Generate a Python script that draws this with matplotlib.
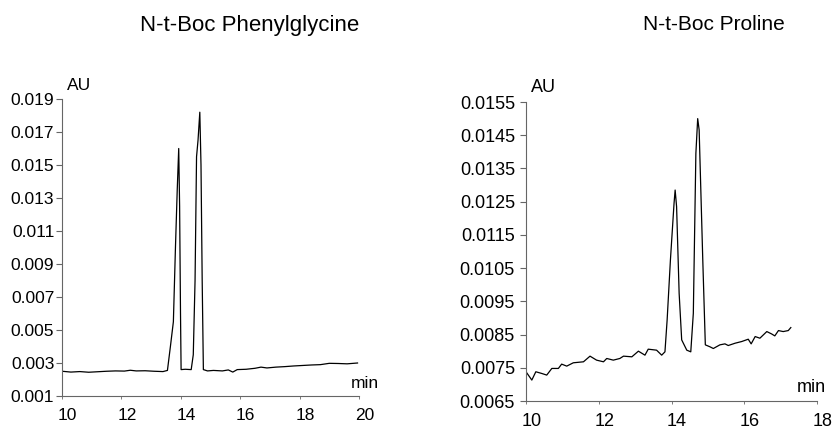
import matplotlib
matplotlib.use("Agg")
import matplotlib.pyplot as plt
import matplotlib.transforms as mtransforms

plt.rcParams['font.family'] = ['Liberation Sans', 'DejaVu Sans']

# N-t-Boc Phenylglycine trace (min, AU)
phg_t = [10.0, 10.3, 10.6, 10.9, 11.2, 11.5, 11.8, 12.1, 12.3, 12.5, 12.8, 13.1, 13.4,
         13.55, 13.65, 13.75, 13.82, 13.88, 13.93, 13.96, 13.99, 14.01,
         14.15, 14.35, 14.42, 14.48, 14.53, 14.58, 14.64, 14.68, 14.72, 14.76,
         14.9, 15.1, 15.4, 15.6, 15.75, 15.9, 16.2, 16.5, 16.7, 16.9, 17.2, 17.5,
         17.8, 18.1, 18.4, 18.7, 19.0, 19.3, 19.6, 19.95]
phg_au = [0.00250, 0.00245, 0.00248, 0.00244, 0.00247, 0.00250, 0.00252, 0.00251, 0.00256,
          0.00252, 0.00253, 0.00250, 0.00248,
          0.00255, 0.0040, 0.0055, 0.0100, 0.0135, 0.0160, 0.0125, 0.0060, 0.00260,
          0.00262, 0.00260, 0.0035, 0.0080, 0.0155, 0.0165, 0.0182, 0.0150, 0.0080, 0.00260,
          0.00252, 0.00255, 0.00252, 0.00258, 0.00245, 0.00260, 0.00262, 0.00268, 0.00275,
          0.00270, 0.00275, 0.00278, 0.00282, 0.00285, 0.00288, 0.00290, 0.00298, 0.00297,
          0.00295, 0.00300]

# N-t-Boc Proline trace (min, AU)
pro_t = [10.0, 10.16, 10.27, 10.43, 10.57, 10.71, 10.89, 10.98, 11.12, 11.30, 11.58, 11.76,
         11.94, 12.13, 12.22, 12.40, 12.58, 12.68, 12.91, 13.09, 13.27, 13.36, 13.59, 13.73,
         13.82, 13.88, 13.97, 14.07, 14.10, 14.14, 14.21, 14.28, 14.42, 14.53, 14.60, 14.67,
         14.72, 14.76, 14.86, 14.93, 15.06, 15.15, 15.33, 15.47, 15.56, 15.75, 15.93, 16.11,
         16.19, 16.30, 16.43, 16.62, 16.75, 16.84, 16.94, 17.07, 17.21, 17.28]
pro_au = [0.00738, 0.00713, 0.00738, 0.00733, 0.00728, 0.00748, 0.00748, 0.00761, 0.00755,
          0.00765, 0.00768, 0.00785, 0.00773, 0.00768, 0.00778, 0.00773, 0.00778, 0.00785,
          0.00783, 0.00800, 0.00788, 0.00806, 0.00803, 0.00788, 0.00798, 0.00894, 0.01074,
          0.01245, 0.01285, 0.01235, 0.00974, 0.00834, 0.00803, 0.00798, 0.00914, 0.01395,
          0.01500, 0.01466, 0.01074, 0.00819, 0.00813, 0.00808, 0.00819, 0.00822, 0.00817,
          0.00824, 0.00829, 0.00836, 0.00822, 0.00844, 0.00839, 0.00859, 0.00852, 0.00846,
          0.00862, 0.00859, 0.00862, 0.00871]

phg_yticks = [0.001, 0.003, 0.005, 0.007, 0.009, 0.011, 0.013, 0.015, 0.017, 0.019]
phg_xticks = [10, 12, 14, 16, 18, 20]
pro_yticks = [0.0065, 0.0075, 0.0085, 0.0095, 0.0105, 0.0115, 0.0125, 0.0135, 0.0145, 0.0155]
pro_xticks = [10, 12, 14, 16, 18]

fig = plt.figure(figsize=(8.36, 4.26), dpi=100)
ax1 = fig.add_axes([62 / 836, 30 / 426, 297 / 836, 297 / 426])
ax2 = fig.add_axes([526 / 836, 25 / 426, 291 / 836, 299 / 426])

axis_col = "#666666"


def style(ax, xt, yt, ylabels, size, ypad, xpad):
    for s in ["top", "right"]:
        ax.spines[s].set_visible(False)
    for s in ["left", "bottom"]:
        ax.spines[s].set_color(axis_col)
        ax.spines[s].set_linewidth(0.8)
    ax.set_xticks(xt)
    ax.set_yticks(yt)
    ax.set_yticklabels(ylabels)
    ax.tick_params(axis="y", length=4, width=0.8, color=axis_col, pad=ypad, labelsize=size)
    ax.tick_params(axis="x", length=2, width=0.6, color=axis_col, pad=xpad, labelsize=size)
    shift = mtransforms.ScaledTranslation(4 / 72, 0, fig.dpi_scale_trans)
    for lab in ax.get_xticklabels():
        lab.set_transform(lab.get_transform() + shift)
    ax.annotate("AU", xy=(0, 1), xycoords="axes fraction", xytext=(5, 14),
                textcoords="offset pixels", ha="left", va="center", fontsize=size)


ax1.plot(phg_t, phg_au, color="black", lw=0.9)
ax1.set_xlim(10, 20)
ax1.set_ylim(0.001, 0.019)
style(ax1, phg_xticks, phg_yticks, ["%.3f" % v for v in phg_yticks], 12.5, 1.5, 7)
ax1.annotate("min", xy=(1, 0), xycoords="axes fraction", xytext=(6, 13),
             textcoords="offset pixels", ha="center", va="center", fontsize=12.5)

ax2.plot(pro_t, pro_au, color="black", lw=0.9)
ax2.set_xlim(10, 18)
ax2.set_ylim(0.0065, 0.0155)
style(ax2, pro_xticks, pro_yticks, ["%.4f" % v for v in pro_yticks], 13, 4, 7)
ax2.annotate("min", xy=(1, 0), xycoords="axes fraction", xytext=(-6, 13),
             textcoords="offset pixels", ha="center", va="center", fontsize=13)

fig.text(250 / 836, 1 - 25 / 426, "N-t-Boc Phenylglycine", ha="center", va="center", fontsize=16)
fig.text(714 / 836, 1 - 25 / 426, "N-t-Boc Proline", ha="center", va="center", fontsize=15)

fig.savefig("out.png", dpi=100)
